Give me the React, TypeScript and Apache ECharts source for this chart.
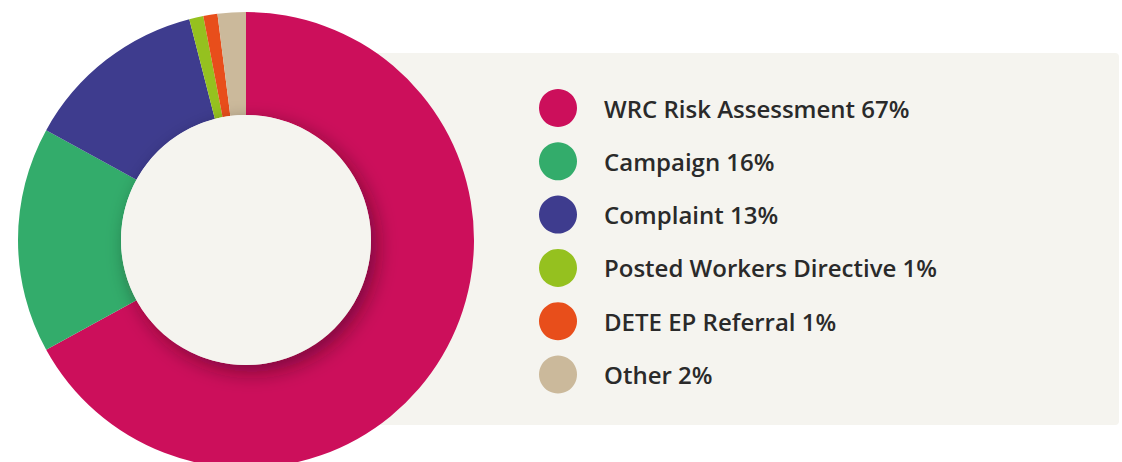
import React, { useEffect, useRef } from "react";
import * as echarts from "echarts";

const categories = [
  "WRC Risk Assessment",
  "Campaign",
  "Complaint",
  "Posted Workers Directive",
  "DETE EP Referral",
  "Other",
];
const values = [67, 16, 13, 1, 1, 2];
const colors = ["#cc0f5b", "#33ac6b", "#3e3c8e", "#95c11f", "#e84e1b", "#cbb99b"];

const PANEL = "#f5f4ef";

export default function App() {
  const ref = useRef<HTMLDivElement>(null);
  useEffect(() => {
    if (!ref.current) return;
    const chart = echarts.init(ref.current, undefined, { renderer: "svg" });
    const data = categories.map((name, i) => ({
      name,
      value: values[i],
      itemStyle: { color: colors[i] },
    }));
    chart.setOption({
      animation: false,
      backgroundColor: "#ffffff",
      graphic: [
        {
          type: "rect",
          z: -10,
          shape: { x: 250, y: 53, width: 869, height: 372, r: 4 },
          style: { fill: PANEL },
        },
      ],
      legend: {
        orient: "vertical",
        left: 539,
        top: 89,
        padding: 0,
        icon: "circle",
        itemWidth: 38,
        itemHeight: 38,
        itemGap: 15.3,
        selectedMode: false,
        data: categories,
        formatter: (name: string) => {
          const i = categories.indexOf(name);
          return `${name} ${values[i]}%`;
        },
        textStyle: {
          fontFamily: "Open Sans",
          fontWeight: 600,
          fontSize: 24,
          color: "#2a2a2a",
          padding: [0, 0, 0, 22],
        },
      },
      series: [
        {
          type: "pie",
          center: [246, 240],
          radius: [125, 228],
          startAngle: 90,
          clockwise: true,
          silent: true,
          label: { show: false },
          labelLine: { show: false },
          data,
          z: 2,
        },
        {
          type: "pie",
          center: [246, 240],
          radius: [0, 125],
          silent: true,
          label: { show: false },
          labelLine: { show: false },
          legendHoverLink: false,
          z: 3,
          data: [
            {
              name: "hole",
              value: 1,
              itemStyle: {
                color: PANEL,
                shadowColor: "rgba(40,0,20,0.45)",
                shadowBlur: 20,
                shadowOffsetX: 6,
                shadowOffsetY: 7,
              },
            },
          ],
        },
      ],
    });
    return () => chart.dispose();
  }, []);
  return (
    <div
      ref={ref}
      style={{ position: "absolute", left: 0, top: 0, width: 1122, height: 462 }}
    />
  );
}
